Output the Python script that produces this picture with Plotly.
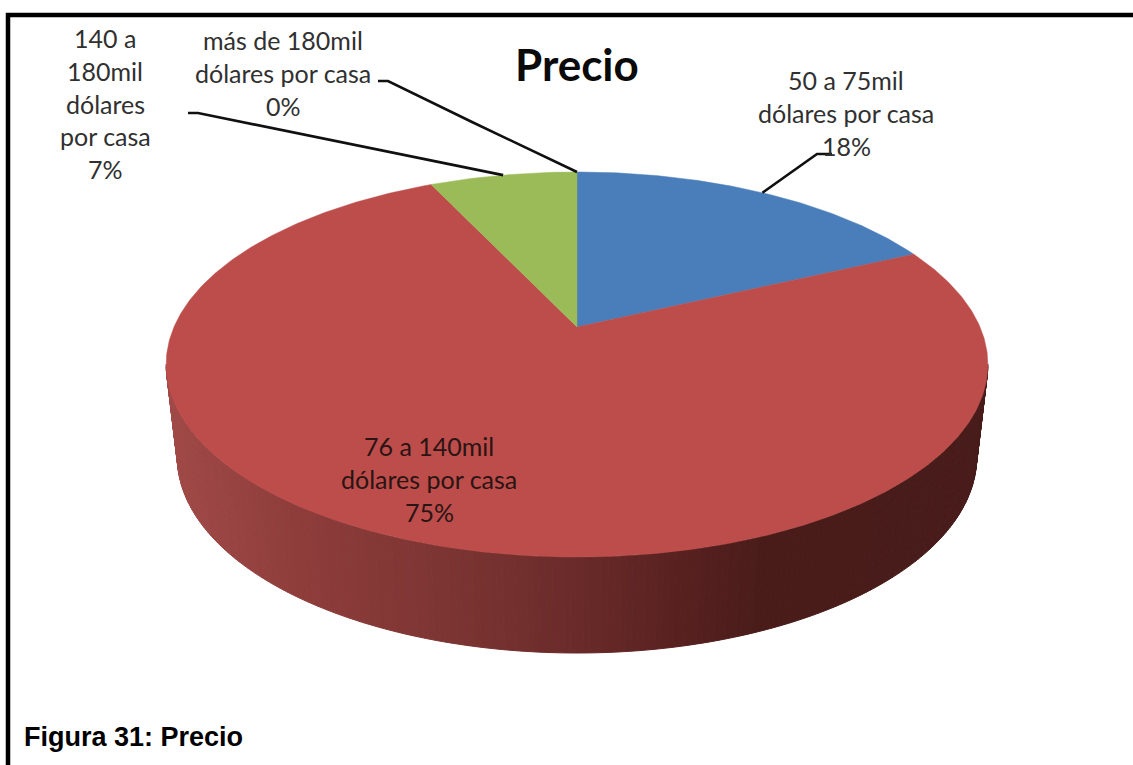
import numpy as np
import plotly.graph_objects as go

# Survey results: price band of the house, share of respondents (%)
categories = [
    "50 a 75mil<br>dólares por casa",
    "76 a 140mil<br>dólares por casa",
    "140 a<br>180mil<br>dólares<br>por casa",
    "más de 180mil<br>dólares por casa",
]
values = [18, 75, 7, 0]
title_text = "Precio"
caption_text = "Figura 31: Precio"

W, H = 1133, 765
SLICE_COLORS = ["#4A7EBB", "#BC4D4A", "#9BBB59", "#8064A2"]
LABEL_COLORS = ["#303030", "#2a1414", "#303030", "#303030"]
LABEL_FONT = "Lato"
LABEL_SIZE = 25
LINE_PITCH = 32.8

# Perspective projection of the tilted disc: unit-circle point (u, v) to pixels
CX = 577.0
TILT = 0.1948
TOP_DISC = dict(r=403.0, a=-121.5, b=327.0)
BOTTOM_DISC = dict(r=392.0, a=-107.0, b=418.8)


def project(theta, disc):
    """theta is measured clockwise from 12 o'clock, in radians."""
    u, v = np.sin(theta), np.cos(theta)
    w = 1 + TILT * v
    return CX + disc["r"] * u / w, (disc["a"] * v + disc["b"]) / w


def shade(x):
    # Horizontal lighting across the rim of the disc
    xs = [170, 300, 450, 577, 700, 760, 990]
    rs = [160, 142, 124, 106, 85, 74, 72]
    gs = [74, 61, 53, 43, 32, 29, 28]
    bs = [72, 59, 51, 42, 31, 27, 26]
    return "rgb(%d,%d,%d)" % (np.interp(x, xs, rs), np.interp(x, xs, gs), np.interp(x, xs, bs))


fig = go.Figure()

# Rim of the large slice, drawn as narrow vertical bands to get the gradient
edge = np.arccos(-TILT)
thetas = np.linspace(edge, 2 * np.pi - edge, 221)
for t0, t1 in zip(thetas[:-1], thetas[1:]):
    x0, y0 = project(t0, TOP_DISC)
    x1, y1 = project(t1, TOP_DISC)
    x2, y2 = project(t1, BOTTOM_DISC)
    x3, y3 = project(t0, BOTTOM_DISC)
    col = shade((x0 + x1) / 2)
    fig.add_trace(go.Scatter(
        x=[x0, x1, x2, x3, x0], y=[y0, y1, y2, y3, y0],
        mode="lines", fill="toself", fillcolor=col,
        line=dict(color=col, width=1), hoverinfo="skip", showlegend=False,
    ))

# Top face of the pie
total = sum(values)
start = 0.0
mid_angles = []
for val, col in zip(values, SLICE_COLORS):
    sweep = 2 * np.pi * val / total
    mid_angles.append(start + sweep / 2)
    if val > 0:
        th = np.linspace(start, start + sweep, max(int(val * 6), 8))
        xs, ys = project(th, TOP_DISC)
        ax, ay = CX, TOP_DISC["b"]
        fig.add_trace(go.Scatter(
            x=[ax, *xs, ax], y=[ay, *ys, ay],
            mode="lines", fill="toself", fillcolor=col,
            line=dict(color=col, width=0.5), hoverinfo="skip", showlegend=False,
        ))
    start += sweep

# Leader lines: from the label elbow to the middle of the slice's outer edge
leader_elbows = [
    [(832, 154), (817, 154)],
    None,
    [(188, 113), (198, 113)],
    [(378, 81), (388, 81), (472, 122)],
]
for elbow, mid in zip(leader_elbows, mid_angles):
    if elbow is None:
        continue
    ex, ey = project(mid, TOP_DISC)
    fig.add_trace(go.Scatter(
        x=[p[0] for p in elbow] + [float(ex)],
        y=[p[1] for p in elbow] + [float(ey)],
        mode="lines", line=dict(color="#101010", width=2.6),
        hoverinfo="skip", showlegend=False,
    ))

# Frame of the figure
fig.add_trace(go.Scatter(
    x=[W, 8, 8], y=[15, 15, H], mode="lines",
    line=dict(color="#000000", width=4.5), hoverinfo="skip", showlegend=False,
))

annotations = []


def put_text(x, y, text, size=LABEL_SIZE, family=LABEL_FONT, color="#303030", anchor="center"):
    annotations.append(dict(
        x=x, y=y, xref="x", yref="y", text=text, showarrow=False,
        xanchor=anchor, yanchor="middle",
        font=dict(family=family, size=size, color=color),
    ))


# One annotation per text line so that the line pitch can be set exactly
label_anchors = [(846, 80), (429, 446), (105, 38), (283, 40)]
for cat, val, (lx, ly), tc in zip(categories, values, label_anchors, LABEL_COLORS):
    lines = cat.split("<br>") + [f"{val}%"]
    for i, line in enumerate(lines):
        put_text(lx, ly + i * LINE_PITCH, line, color=tc)

put_text(577, 64, f"<b>{title_text}</b>", size=44, color="#0a0a0a")
put_text(22, 737, f"<b>{caption_text}</b>", size=27, family="Liberation Sans",
         color="#000000", anchor="left")

fig.update_layout(
    width=W, height=H,
    margin=dict(l=0, r=0, t=0, b=0),
    paper_bgcolor="#FFFFFF", plot_bgcolor="#FFFFFF",
    xaxis=dict(range=[0, W], visible=False, fixedrange=True),
    yaxis=dict(range=[H, 0], visible=False, fixedrange=True),
    annotations=annotations,
    showlegend=False,
)

fig.write_html("out.html", config=dict(displayModeBar=False))
